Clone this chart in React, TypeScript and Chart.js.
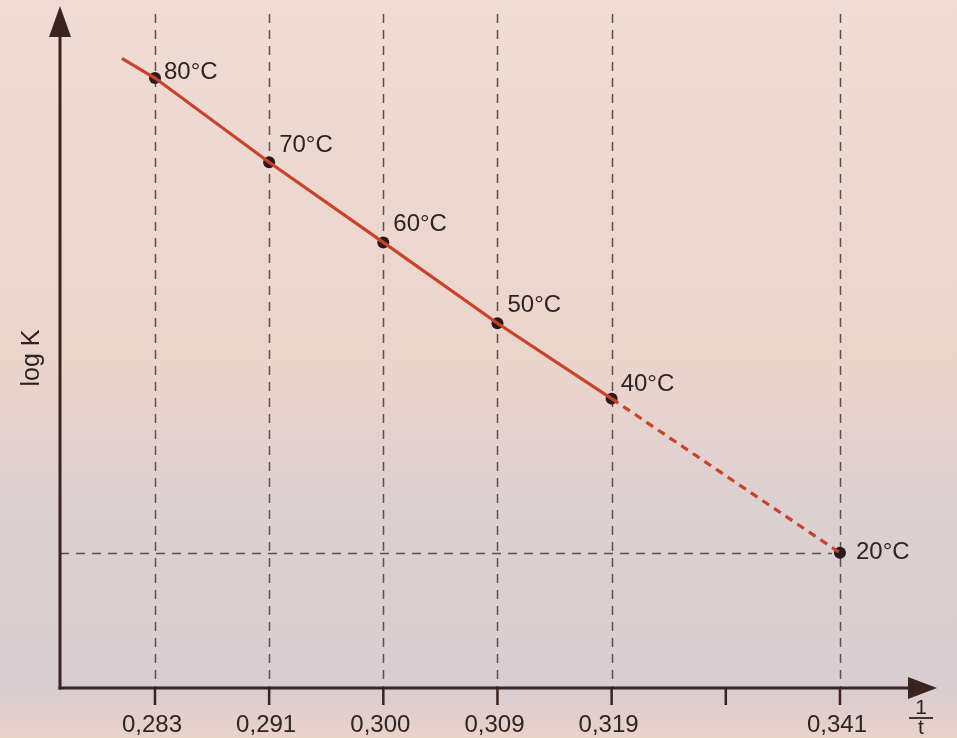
import { useEffect, useRef } from "react";
import { Chart, registerables } from "chart.js";

Chart.register(...registerables);

// ---- data ----
const temperatures = [80, 70, 60, 50, 40, 20];
const invTLabels = ["0,283", "0,291", "0,300", "0,309", "0,319", "0,341"];
const logK = [8.98, 7.74, 6.56, 5.37, 4.26, 1.99];
const pointLabels = ["80°C", "70°C", "60°C", "50°C", "40°C", "20°C"];
const axisTickTemps = [80, 70, 60, 50, 40, 30, 20];
const lineStartTemp = 82.9;
const lineStartLogK = 9.27;
const measuredUntil = 40; // solid up to 40°C, dashed extrapolation to 20°C
const yTitle = "log K";
const xTitleTop = "1";
const xTitleBottom = "t";

// ---- styles ----
const RED = "#c8432b";
const INK = "#3a2320";
const DOT = "#2a1b1a";
const GRID = "#5e504e";
const TEXT = "#2e2423";
const FONT = '"Liberation Sans", Arial, Helvetica, sans-serif';
const labelOffsets = [
  [9, -6],
  [10, -17],
  [10, -18],
  [10, -18],
  [9, -14],
  [16, 0],
];

export default function App() {
  const ref = useRef<HTMLCanvasElement | null>(null);

  useEffect(() => {
    if (!ref.current) return;

    const solid: { x: number; y: number }[] = [{ x: lineStartTemp, y: lineStartLogK }];
    const dashed: { x: number; y: number }[] = [];
    temperatures.forEach((t, i) => {
      if (t >= measuredUntil) solid.push({ x: t, y: logK[i] });
      if (t <= measuredUntil) dashed.push({ x: t, y: logK[i] });
    });
    const pts = temperatures.map((t, i) => ({ x: t, y: logK[i] }));

    const decor = {
      id: "decor",
      beforeDatasetsDraw(chart: any) {
        const { ctx, chartArea, scales } = chart;
        const xs = scales.x;
        const ys = scales.y;
        ctx.save();
        ctx.strokeStyle = GRID;
        ctx.lineWidth = 1.5;
        ctx.setLineDash([9, 7]);
        temperatures.forEach((t) => {
          const px = Math.round(xs.getPixelForValue(t)) + 0.5;
          ctx.beginPath();
          ctx.moveTo(px, chartArea.top + 8);
          ctx.lineTo(px, chartArea.bottom);
          ctx.stroke();
        });
        // horizontal reference to 20°C
        const last = temperatures.length - 1;
        const hy = Math.round(ys.getPixelForValue(logK[last])) + 0.5;
        ctx.beginPath();
        ctx.moveTo(chartArea.left, hy);
        ctx.lineTo(xs.getPixelForValue(temperatures[last]) - 8, hy);
        ctx.stroke();
        ctx.restore();
      },
      afterDraw(chart: any) {
        const { ctx, chartArea, scales } = chart;
        const xs = scales.x;
        const ys = scales.y;
        const L = chartArea.left;
        const B = chartArea.bottom;
        ctx.save();
        ctx.strokeStyle = INK;
        ctx.fillStyle = INK;
        ctx.lineWidth = 3;
        ctx.setLineDash([]);
        // y axis
        ctx.beginPath();
        ctx.moveTo(L, B + 1.5);
        ctx.lineTo(L, chartArea.top + 25);
        ctx.stroke();
        ctx.beginPath();
        ctx.moveTo(L, chartArea.top);
        ctx.lineTo(L - 11, chartArea.top + 31);
        ctx.lineTo(L + 11, chartArea.top + 31);
        ctx.closePath();
        ctx.fill();
        // x axis
        ctx.beginPath();
        ctx.moveTo(L - 1.5, B);
        ctx.lineTo(chartArea.right - 25, B);
        ctx.stroke();
        ctx.beginPath();
        ctx.moveTo(chartArea.right, B);
        ctx.lineTo(chartArea.right - 29, B - 11);
        ctx.lineTo(chartArea.right - 29, B + 11);
        ctx.closePath();
        ctx.fill();
        // tick marks
        ctx.lineWidth = 2.5;
        axisTickTemps.forEach((t) => {
          const px = xs.getPixelForValue(t);
          ctx.beginPath();
          ctx.moveTo(px, B);
          ctx.lineTo(px, B + 17);
          ctx.stroke();
        });
        // tick labels
        ctx.fillStyle = TEXT;
        ctx.font = `24px ${FONT}`;
        ctx.textAlign = "center";
        ctx.textBaseline = "alphabetic";
        temperatures.forEach((t, i) => {
          ctx.fillText(invTLabels[i], xs.getPixelForValue(t) - 3, B + 44);
        });
        // x title (fraction 1/t)
        const fx = 921;
        ctx.font = `21px ${FONT}`;
        ctx.fillText(xTitleTop, fx, B + 26);
        ctx.lineWidth = 1.8;
        ctx.strokeStyle = TEXT;
        ctx.beginPath();
        ctx.moveTo(fx - 12, B + 30);
        ctx.lineTo(fx + 12, B + 30);
        ctx.stroke();
        ctx.fillText(xTitleBottom, fx, B + 46);
        // y title
        ctx.save();
        ctx.translate(32, 358);
        ctx.rotate(-Math.PI / 2);
        ctx.textAlign = "center";
        ctx.textBaseline = "middle";
        ctx.font = `25px ${FONT}`;
        ctx.fillText(yTitle, 0, 0);
        ctx.restore();
        // point labels
        ctx.font = `24px ${FONT}`;
        ctx.textAlign = "left";
        ctx.textBaseline = "middle";
        temperatures.forEach((t, i) => {
          const [dx, dy] = labelOffsets[i];
          ctx.fillText(pointLabels[i], xs.getPixelForValue(t) + dx, ys.getPixelForValue(logK[i]) + dy);
        });
        ctx.restore();
      },
    };

    const chart = new Chart(ref.current, {
      type: "scatter",
      data: {
        datasets: [
          {
            data: solid,
            showLine: true,
            borderColor: RED,
            borderWidth: 3.2,
            pointRadius: 0,
            clip: false,
          } as any,
          {
            data: dashed,
            showLine: true,
            borderColor: RED,
            borderWidth: 3.2,
            borderDash: [8, 6],
            pointRadius: 0,
            clip: false,
          } as any,
          {
            data: pts,
            showLine: false,
            pointRadius: 6,
            pointBackgroundColor: DOT,
            pointBorderColor: DOT,
            pointBorderWidth: 0,
            clip: false,
          } as any,
        ],
      },
      options: {
        animation: false,
        responsive: false,
        maintainAspectRatio: false,
        layout: { padding: { left: 60, right: 20, top: 5, bottom: 50 } },
        plugins: { legend: { display: false }, tooltip: { enabled: false } },
        scales: {
          x: { type: "linear", display: false, reverse: true, min: 11.5, max: 88.32 },
          y: { type: "linear", display: false, min: 0, max: 10.04 },
        },
      },
      plugins: [decor],
    });
    return () => chart.destroy();
  }, []);

  return (
    <div
      style={{
        position: "absolute",
        left: 0,
        top: 0,
        width: 957,
        height: 738,
        background:
          "linear-gradient(180deg, #efdcd5 0%, #ebd4cc 50%, #ddd0d2 68%, #d8cdd0 93%, #e9d2ca 100%)",
      }}
    >
      <canvas ref={ref} width={957} height={738} style={{ display: "block" }} />
    </div>
  );
}
